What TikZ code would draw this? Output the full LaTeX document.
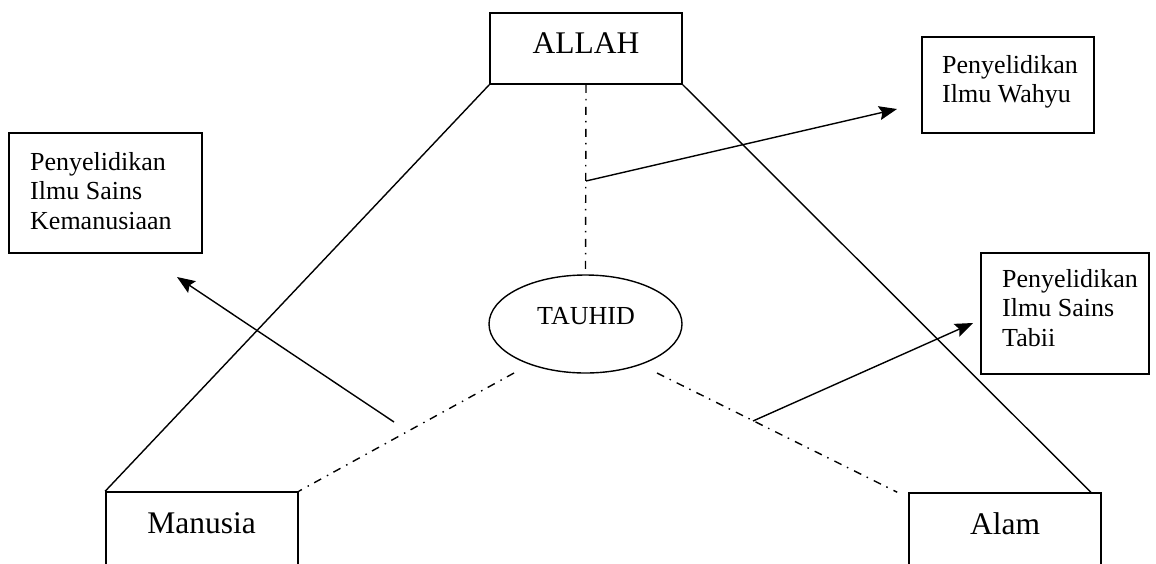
\documentclass[tikz,border=0pt]{standalone}
\usepackage{fontspec}
\setmainfont{Liberation Serif}
\usetikzlibrary{arrows.meta,shapes.geometric}
\begin{document}
\begin{tikzpicture}[x=1pt,y=-1pt,
 box/.style={draw,line width=1.6pt,inner sep=0pt,rectangle},
 big/.style={font=\fontsize{31.5}{36}\selectfont,inner sep=0pt,anchor=base},
 mid/.style={font=\fontsize{26}{29.5}\selectfont,inner sep=0pt,anchor=base},
 small/.style={font=\fontsize{26}{29.5}\selectfont,inner sep=0pt,align=left,anchor=north west},
 link/.style={line width=1.4pt},
 dd/.style={line width=1.4pt,dash pattern=on 8pt off 6pt on 1.5pt off 6.5pt},
 arr/.style={line width=1.4pt,-{Stealth[length=18pt,width=14pt,inset=3pt]}}]
\useasboundingbox (0,0) rectangle (1156,563);
\clip (0,0) rectangle (1156,563);
% main boxes
\node[box,minimum width=192pt,minimum height=71pt] (allah) at (586,48.5) {};
\node[big] (allaht) at (586,53) {ALLAH};
\node[box,minimum width=192pt,minimum height=120pt] (manusia) at (202,552) {};
\node[big] (manusiat) at (201.5,533) {Manusia};
\node[box,minimum width=192pt,minimum height=120pt] (alam) at (1005,553) {};
\node[big] (alamt) at (1005,534) {Alam};
% tauhid
\node[ellipse,draw,line width=1.4pt,minimum width=193pt,minimum height=98pt,inner sep=0pt] (tauhid) at (585.5,324) {};
\node[mid] (tauhidt) at (586,324) {TAUHID};
% side boxes
\node[box,minimum width=193pt,minimum height=120pt] (kem) at (105.5,193) {};
\node[small] (kemt) at (30,152) {Penyelidikan\\Ilmu Sains\\Kemanusiaan};
\node[box,minimum width=172pt,minimum height=96pt] (wahyu) at (1008,85) {};
\node[small] (wahyut) at (942,55) {Penyelidikan\\Ilmu Wahyu};
\node[box,minimum width=168pt,minimum height=121pt] (tabii) at (1065,313.5) {};
\node[small] (tabiit) at (1002,269) {Penyelidikan\\Ilmu Sains\\Tabii};
% triangle sides
\draw[link] (allah.south west) -- (manusia.north west);
\draw[link] (allah.south east) -- ([xshift=-11pt]alam.north east);
% dash-dot lines
\draw[dd] (allah.south) -- (tauhid.north);
\coordinate (ls) at (514,373);
\coordinate (rs) at (657,373);
\draw[dd] (ls) -- (manusia.north east);
\draw[dd] (rs) -- ([xshift=-11pt]alam.north west);
% arrows
\coordinate (a1) at (586,181);
\coordinate (t1) at (897,109);
\coordinate (a2) at (394,422);
\coordinate (t2) at (177,277);
\coordinate (a3) at (753,421);
\coordinate (t3) at (973,323);
\draw[arr] (a1) -- (t1);
\draw[arr] (a2) -- (t2);
\draw[arr] (a3) -- (t3);
\end{tikzpicture}
\end{document}
